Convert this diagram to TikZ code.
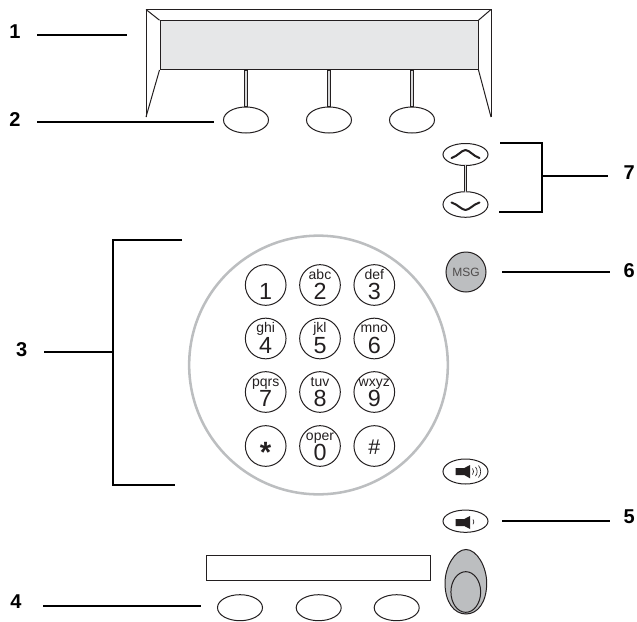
\documentclass[tikz,border=0pt]{standalone}
\usepackage{fontspec}
\setmainfont{Liberation Sans}
\definecolor{screenfill}{HTML}{E6E7E8}
\definecolor{ringgray}{HTML}{BCBEC0}
\definecolor{btngray}{HTML}{BCBEC0}
\definecolor{inkdark}{HTML}{231F20}
\newcommand{\pxfont}[1]{\fontsize{#1}{#1}\selectfont}
\newcommand{\keypadkey}[5]{%
  \node[keybtn] (k#1) at (#2,#3) {};
  \node[digitlbl] (d#1) at ([yshift=-14.7*0.75pt]k#1.center) {#5};
  \node[letterlbl] (l#1) at ([yshift=6*0.75pt]k#1.center) {#4};
}
\usetikzlibrary{shapes.geometric}
\tikzset{
  x=0.75pt,y=-0.75pt,
  leader/.style={draw=black,line width=1.5pt,line cap=butt},
  thin ink/.style={draw=inkdark,line width=0.75pt},
  oval/.style={ellipse,thin ink,inner sep=0pt,minimum width=33.75pt,minimum height=19.5pt,fill=white},
  keybtn/.style={circle,thin ink,inner sep=0pt,minimum size=30.5pt},
  digitlbl/.style={anchor=base,inner sep=0pt,font=\pxfont{17.5},text=inkdark},
  letterlbl/.style={anchor=base,inner sep=0pt,font=\pxfont{10.5},text=inkdark},
  num/.style={inner sep=0pt,font=\pxfont{15}\bfseries,text=black},
  stemout/.style={draw=inkdark,line width=2.7pt},
  stemin/.style={draw=btngray!60!white,line width=1.2pt},
  chevron/.style={draw=inkdark,line width=1.5pt,line cap=round,line join=round},
  wave/.style={draw=inkdark,line width=0.5pt},
}
\begin{document}
\begin{tikzpicture}
\useasboundingbox (0,0) rectangle (637,622);
% screen
\node[rectangle,thin ink,fill=screenfill,inner sep=0pt,minimum width=238.5pt,minimum height=36.6pt] (screen) at (319,45.1) {};
\coordinate (oTL) at (146,9.5);
\coordinate (oTR) at (491,9.5);
\coordinate (oBL) at (146,117);
\coordinate (oBR) at (491,117);
\draw[thin ink,line join=miter] (oBL) -- (oTL) -- (oTR) -- (oBR);
\draw[thin ink] (oTL) -- (screen.north west);
\draw[thin ink] (oTR) -- (screen.north east);
\draw[thin ink] (oBL) -- (screen.south west);
\draw[thin ink] (oBR) -- (screen.south east);
% soft keys
\node[oval] (s1) at (246,120) {};
\node[oval] (s2) at (329,120) {};
\node[oval] (s3) at (412,120) {};
\foreach \k in {s1,s2,s3}{
  \draw[stemout] (screen.south -| \k.north) -- (\k.north);
  \draw[stemin] ([yshift=-0.4pt]screen.south -| \k.north) -- ([yshift=0.4pt]\k.north);
}
% scroll
\node[oval,minimum height=16.5pt] (up) at (465.5,154.5) {};
\node[oval,minimum height=19.2pt] (down) at (465.5,204.5) {};
\draw[stemout] (up.south) -- (down.north);
\draw[stemin] ([yshift=0.4pt]up.south) -- ([yshift=-0.4pt]down.north);
\draw[chevron] (451.5,158) .. controls (458,156) and (461,150.5) .. (465.5,150) .. controls (470,150.5) and (473,156) .. (479.5,158);
\draw[chevron] (451.5,202.5) .. controls (458,204.5) and (461,209.5) .. (465.5,210) .. controls (470,209.5) and (473,204.5) .. (479.5,202.5);
% MSG
\node[circle,thin ink,fill=btngray,inner sep=0pt,minimum size=30pt,font=\pxfont{9},text=inkdark!80!white] (msg) at (466,272) {MSG};
% keypad ring
\node[circle,draw=ringgray,line width=1.9pt,inner sep=0pt,minimum size=194pt] (ring) at (318.5,365) {};
\keypadkey{1}{265.7}{285}{}{1}
\keypadkey{2}{320}{285}{abc}{2}
\keypadkey{3}{374.3}{285}{def}{3}
\keypadkey{4}{265.7}{338.5}{ghi}{4}
\keypadkey{5}{320}{338.5}{jkl}{5}
\keypadkey{6}{374.3}{338.5}{mno}{6}
\keypadkey{7}{265.7}{392}{pqrs}{7}
\keypadkey{8}{320}{392}{tuv}{8}
\keypadkey{9}{374.3}{392}{wxyz}{9}
\node[keybtn] (kstar) at (265.7,446) {};
\node[inner sep=0pt,font=\pxfont{22}\bfseries,text=inkdark] (dstar) at ([yshift=-4.5pt]kstar.center) {*};
\keypadkey{0}{320}{446}{oper}{0}
\node[keybtn] (khash) at (374.3,446) {};
\node[inner sep=0pt,font=\pxfont{16},text=inkdark] (dhash) at ([yshift=-1pt]khash.center) {\#};
% volume
\node[oval,minimum height=18.75pt] (volup) at (465.5,471.5) {};
\node[oval,minimum height=16.7pt] (voldn) at (465.5,521.2) {};
\fill[inkdark] (455.7,468) -- (464.3,468) -- (470,465) -- (470,478.3) -- (464.3,475) -- (455.7,475) -- cycle;
\draw[wave] (472.5,468.5) arc[start angle=40,end angle=-40,radius=3.5pt];
\draw[wave] (475.5,467) arc[start angle=40,end angle=-40,radius=5.3pt];
\draw[wave] (478.5,465.5) arc[start angle=40,end angle=-40,radius=7pt];
\fill[inkdark] (455.7,519) -- (464.3,519) -- (470,516) -- (470,529) -- (464.3,526) -- (455.7,526) -- cycle;
\draw[wave] (473,519.5) arc[start angle=40,end angle=-40,radius=2.8pt];
% handset
\draw[thin ink,fill=btngray] (466,549.5) .. controls (477,549.5) and (486.7,567) .. (486.7,583) .. controls (486.7,602) and (478,614) .. (466,614) .. controls (454,614) and (445,602) .. (445,583) .. controls (445,567) and (455,549.5) .. (466,549.5) -- cycle;
\node[ellipse,thin ink,fill=btngray,inner sep=0pt,minimum width=22.3pt,minimum height=30.5pt] (hook) at (465.8,592) {};
% bottom display and keys
\node[rectangle,draw=inkdark,line width=0.7pt,inner sep=0pt,minimum width=167.5pt,minimum height=19pt] (disp) at (318.5,568) {};
\node[oval] (b1) at (240,607.7) {};
\node[oval] (b2) at (318.7,607.7) {};
\node[oval] (b3) at (396.7,607.7) {};
% callouts
\node[num] (n1) at (15,31.7) {1};
\node[num] (n2) at (15,119.7) {2};
\node[num] (n3) at (21.7,349.3) {3};
\node[num] (n4) at (16,602) {4};
\node[num] (n5) at (629.3,516.7) {5};
\node[num] (n6) at (629.3,271) {6};
\node[num] (n7) at (629.3,173) {7};
\coordinate (c1a) at (37,34.7); \coordinate (c1b) at (127,34.7);
\draw[leader] (c1a) -- (c1b);
\coordinate (c2a) at (37,122);
\draw[leader] (c2a) -- ([xshift=-6.4pt]s1.west |- c2a);
\coordinate (c3a) at (44,352); \coordinate (c3b) at (113,352);
\draw[leader] (c3a) -- (c3b);
\coordinate (c3t) at (182,240); \coordinate (c3tc) at (113,240);
\coordinate (c3e) at (175,485); \coordinate (c3ec) at (113,485);
\draw[leader,line join=miter] (c3t) -- (c3tc) -- (c3ec) -- (c3e);
\coordinate (c4a) at (43,606);
\draw[leader] (c4a) -- ([xshift=-12pt]b1.west |- c4a);
\coordinate (c5a) at (502,521); \coordinate (c5b) at (610,521);
\draw[leader] (c5a) -- (c5b);
\coordinate (c6a) at (502,272); \coordinate (c6b) at (610,272);
\draw[leader] (c6a) -- (c6b);
\coordinate (c7t) at (500,142.7); \coordinate (c7tc) at (542,142.7);
\coordinate (c7b) at (499,212.3); \coordinate (c7bc) at (542,212.3);
\draw[leader,line join=miter] (c7t) -- (c7tc) -- (c7bc) -- (c7b);
\coordinate (c7m) at (542,175.7); \coordinate (c7r) at (608,175.7);
\draw[leader] (c7m) -- (c7r);
\end{tikzpicture}
\end{document}
